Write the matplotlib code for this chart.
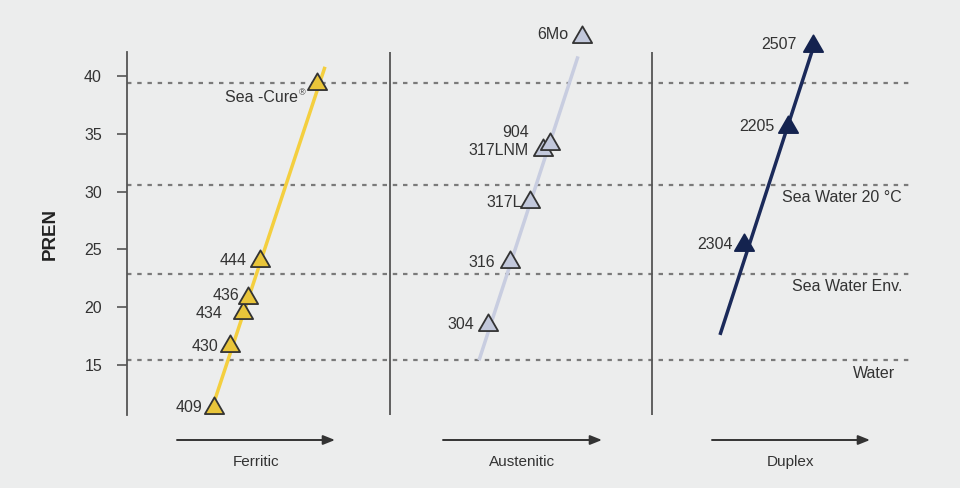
import matplotlib
matplotlib.use("Agg")
import matplotlib.pyplot as plt
from matplotlib.path import Path

plt.rcParams['font.family'] = ['Liberation Sans', 'DejaVu Sans']

# ---------------- data ----------------
groups = ["Ferritic", "Austenitic", "Duplex"]

ferritic_grades = ["409", "430", "434", "436", "444", "Sea -Cure"]
ferritic_pren = [11.3, 16.6, 19.5, 20.8, 24.0, 39.3]
ferritic_pos = [87, 103, 116, 121, 133, 190]
ferritic_trend_pos = [86, 198]
ferritic_trend_pren = [11.5, 40.8]

austenitic_grades = ["304", "316", "317L", "317LNM", "904", "6Mo"]
austenitic_pren = [18.5, 23.9, 29.1, 33.6, 34.1, 43.4]
austenitic_pos = [361, 383, 403, 416, 423, 455]
austenitic_trend_pos = [352, 451]
austenitic_trend_pren = [15.4, 41.7]

duplex_grades = ["2304", "2205", "2507"]
duplex_pren = [25.4, 35.6, 42.6]
duplex_pos = [617, 661, 686]
duplex_trend_pos = [593, 686]
duplex_trend_pren = [17.6, 42.4]

threshold_names = ["Sea Water 20 \u00b0C", "Sea Water Env.", "Water"]
threshold_pren = [30.6, 22.9, 15.4]
top_threshold = 39.4

yticks = [15, 20, 25, 30, 35, 40]
separators = [263, 525]

# ---------------- style ----------------
bg = "#ECEDED"
txt = "#333333"
fs = 11.5
fig = plt.figure(figsize=(9.6, 4.88), dpi=100, facecolor=bg)
ax = fig.add_axes([127 / 960, 73 / 488, 786 / 960, 363 / 488])
ax.set_facecolor(bg)
ax.set_xlim(0, 786)
ax.set_ylim(10.67, 42.08)

for s in ["top", "right", "bottom"]:
    ax.spines[s].set_visible(False)
ax.spines["left"].set_color("#555555")
ax.spines["left"].set_linewidth(1.3)
ax.set_xticks([])
ax.set_yticks(yticks)
ax.tick_params(axis="y", length=7, width=1.2, color="#555555",
               labelsize=fs, labelcolor=txt, pad=11)
ax.set_ylabel("PREN", fontsize=13.5, fontweight="bold", color="#222222", labelpad=18)

for xs in separators:
    ax.axvline(xs, color="#555555", lw=1.3)

dash = (0, (2.0, 2.6))
for yv in [top_threshold] + threshold_pren:
    ax.axhline(yv, color="#7a7a7a", lw=1.6, ls=dash, zorder=1)

# equilateral triangle marker
tri = Path([(-1, -0.577), (1, -0.577), (0, 1.155), (-1, -0.577)],
           [Path.MOVETO, Path.LINETO, Path.LINETO, Path.CLOSEPOLY])

series = [
    (ferritic_pos, ferritic_pren, ferritic_grades, ferritic_trend_pos, ferritic_trend_pren,
     "#F4CF3F", "#E9C53A", "#333333"),
    (austenitic_pos, austenitic_pren, austenitic_grades, austenitic_trend_pos, austenitic_trend_pren,
     "#C8CDE0", "#C2C8DB", "#333333"),
    (duplex_pos, duplex_pren, duplex_grades, duplex_trend_pos, duplex_trend_pren,
     "#1B2A5A", "#14234F", "#14234F"),
]
for pos, pren, grades, tp, tv, lc, fc, ec in series:
    ax.plot(tp, tv, color=lc, lw=2.5, solid_capstyle="butt", zorder=3, clip_on=False)
    ax.plot(pos, pren, ls="none", marker=tri, ms=16, mfc=fc, mec=ec, mew=1.3,
            zorder=4, clip_on=False)

# grade labels (offset in pixels to the left of markers)
label_offsets = {
    "409": (-12, 0), "430": (-12, 0), "434": (-20, -1), "436": (-9, 2),
    "444": (-13, 0), "Sea -Cure": (-19, -13),
    "304": (-14, 0), "316": (-15, 0), "317L": (-8, 0), "317LNM": (-14, 0),
    "904": (-21, 12), "6Mo": (-14, 2),
    "2304": (-11, 0), "2205": (-13, 0), "2507": (-16, 1),
}
for pos, pren, grades, *_ in series:
    for x, y, g in zip(pos, pren, grades):
        dx, dy = label_offsets[g]
        ax.annotate(g, (x, y), xytext=(dx, dy), textcoords="offset pixels",
                    ha="right", va="center", fontsize=fs, color=txt,
                    annotation_clip=False, zorder=5)
        if g == "Sea -Cure":
            ax.annotate("\u00ae", (x, y), xytext=(dx + 1, dy + 4), textcoords="offset pixels",
                        ha="left", va="center", fontsize=6.5, color=txt,
                        annotation_clip=False, zorder=5)

# threshold labels
thr_label_x = [775, 776, 768]
thr_label_dy = [-13, -13, -13]
for name, yv, xr, dy in zip(threshold_names, threshold_pren, thr_label_x, thr_label_dy):
    ax.annotate(name, (xr, yv), xytext=(0, dy), textcoords="offset pixels",
                ha="right", va="center", fontsize=fs, color=txt, annotation_clip=False)

# bottom arrows and group names
arrow_spans = [(50, 208), (316, 475), (585, 743)]
for (x0, x1), name in zip(arrow_spans, groups):
    ax.annotate("", xy=(x1, 48), xytext=(x0, 48),
                xycoords=("data", "figure pixels"), textcoords=("data", "figure pixels"),
                arrowprops=dict(arrowstyle="-|>,head_length=0.7,head_width=0.28",
                                color="#333333", lw=1.4, shrinkA=0, shrinkB=0),
                annotation_clip=False)
    ax.annotate(name, ((x0 + x1) / 2, 26), xycoords=("data", "figure pixels"),
                ha="center", va="center", fontsize=11, color=txt, annotation_clip=False)

fig.savefig("out.png", dpi=100, facecolor=bg)
